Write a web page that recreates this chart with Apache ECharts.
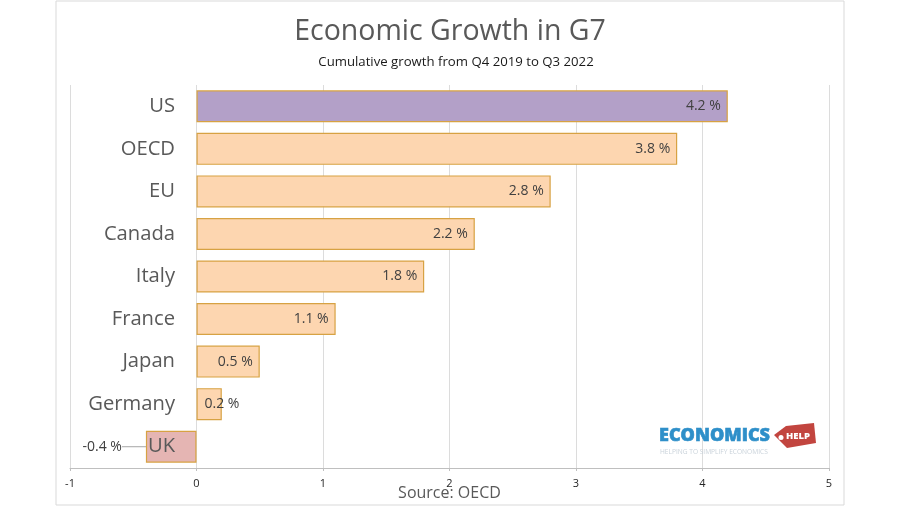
<!DOCTYPE html>
<html>
<head>
<meta charset="utf-8">
<style>
html,body{margin:0;padding:0;background:#fff;}
#chart{width:900px;height:506px;}
</style>
<script src="https://cdn.jsdelivr.net/npm/echarts@6/dist/echarts.min.js"></script>
</head>
<body>
<div id="chart"></div>
<script>
var categories = ['US', 'OECD', 'EU', 'Canada', 'Italy', 'France', 'Japan', 'Germany', 'UK'];
var growth = [4.2, 3.8, 2.8, 2.2, 1.8, 1.1, 0.5, 0.2, -0.4];
var xTicks = [-1, 0, 1, 2, 3, 4, 5];

var font = '"Open Sans", sans-serif';

// US and UK are picked out, the rest share one colour
function barColor(name){
	if(name == 'US') return '#b3a0c8';
	if(name == 'UK') return '#e5b5b3';
	return '#fdd6b0';
}

// most labels sit inside the end of the bar, Germany and UK do not fit
function labelFor(name){
	if(name == 'Germany') return {position:'insideLeft', distance:8};
	if(name == 'UK') return {position:'left', distance:5};
	return {position:'insideRight', distance:7};
}

var barData = growth.map(function(v, i){
	var name = categories[i];
	return {
		value: v,
		itemStyle: {color: barColor(name)},
		label: labelFor(name),
		labelLine: {show: name == 'UK', lineStyle: {color:'#a6a6a6', width:1}}
	};
});

var chart = echarts.init(document.getElementById('chart'));

var option = {
	backgroundColor: '#fff',
	animation: false,
	textStyle: {fontFamily: font},
	title: [
		{text:'Economic Growth in G7', left:445, textAlign:'center', top:12,
			textStyle:{fontFamily:font, fontSize:28.5, fontWeight:'normal', color:'#595959'}},
		{text:'Cumulative growth from Q4 2019 to Q3 2022', left:451, textAlign:'center', top:51,
			textStyle:{fontFamily:font, fontSize:13.2, fontWeight:'normal', color:'#1a1a1a'}},
		{text:'Source: OECD', left:444.5, textAlign:'center', top:480,
			textStyle:{fontFamily:font, fontSize:16, fontWeight:'normal', color:'#595959'}}
	],
	grid: {left:70, right:71, top:85, height:383, outerBoundsMode:'none'},
	xAxis: {
		type: 'value',
		position: 'bottom',
		min: xTicks[0],
		max: xTicks[xTicks.length - 1],
		interval: 1,
		axisLine: {show:true, onZero:false, lineStyle:{color:'#bfbfbf', width:1}},
		axisTick: {show:true, length:3, lineStyle:{color:'#bfbfbf'}},
		axisLabel: {color:'#262626', fontSize:11, margin:10, fontFamily:font},
		splitLine: {show:true, lineStyle:{color:'#dcdcdc', width:1}}
	},
	yAxis: {
		type: 'category',
		data: categories,
		inverse: true,
		z: 5,
		axisLine: {show:false, onZero:false},
		axisTick: {show:false},
		// names sit just left of the zero line, UK on top of its bar
		axisLabel: {color:'#595959', fontSize:20.2, margin:-105, padding:[2,0,0,0], fontFamily:font}
	},
	series: [{
		type: 'bar',
		data: barData,
		barWidth: 32,
		itemStyle: {borderColor:'#d7a243', borderWidth:1.2},
		label: {show:true, color:'#404040', fontSize:14, fontFamily:font,
			formatter: function(p){ return p.value + ' %'; }},
		labelLayout: function(p){
			if(categories[p.dataIndex] == 'UK') return {dx:-19};
		}
	}],
	graphic: [
		// outer frame of the picture
		{type:'rect', silent:true, z:-1, shape:{x:56, y:1, width:788, height:504},
			style:{fill:'none', stroke:'#d9d9d9', lineWidth:1}},
		// logo
		{type:'text', z:10, style:{x:659, y:427, text:'ECONOMICS', fill:'#2e8fc9',
			stroke:'#2e8fc9', lineWidth:0.6, font:'900 18px "Open Sans", sans-serif'}},
		{type:'text', z:10, style:{x:660, y:449, text:'HELPING TO SIMPLIFY ECONOMICS', fill:'#c9d2da',
			font:'6.6px "Open Sans", sans-serif'}},
		{type:'polygon', z:10, shape:{points:[[774,435],[786,426],[814,423],[816,443],[787,448]]},
			style:{fill:'#c2453f'}},
		{type:'circle', z:11, shape:{cx:781, cy:437.5, r:2.5}, style:{fill:'#fff'}},
		{type:'text', z:11, style:{x:786, y:431, text:'HELP', fill:'#fff',
			font:'800 9.5px "Open Sans", sans-serif'}}
	]
};
chart.setOption(option);
</script>
</body>
</html>
